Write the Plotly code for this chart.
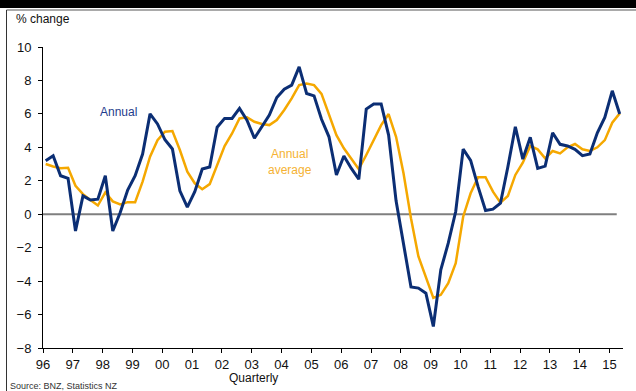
import plotly.graph_objects as go

quarters = [f"{y}Q{q}" for y in range(1996, 2016) for q in range(1, 5)][:78]

annual = [3.2, 3.5, 2.3, 2.15, -1.0, 1.1, 0.85, 0.9,
          2.3, -1.0, 0.1, 1.45, 2.3, 3.6, 6.0, 5.4,
          4.45, 3.9, 1.4, 0.42, 1.35, 2.7, 2.82, 5.2,
          5.73, 5.73, 6.33, 5.63, 4.54, 5.2, 5.93, 6.98,
          7.48, 7.72, 8.81, 7.22, 7.08, 5.68, 4.63, 2.35,
          3.48, 2.74, 2.09, 6.29, 6.59, 6.59, 4.73, 0.8,
          -1.8, -4.35, -4.42, -4.72, -6.71, -3.33, -1.73, 0.16,
          3.89, 3.22, 1.65, 0.22, 0.3, 0.66, 2.84, 5.23,
          3.3, 4.6, 2.74, 2.88, 4.87, 4.18, 4.08, 3.88,
          3.5, 3.6, 4.87, 5.79, 7.38, 5.99]

annual_avg = [3.0, 2.85, 2.75, 2.78, 1.7, 1.2, 0.85, 0.52,
              1.3, 0.77, 0.58, 0.72, 0.72, 1.95, 3.44, 4.43,
              4.93, 4.97, 3.84, 2.55, 1.85, 1.49, 1.8, 2.94,
              4.08, 4.83, 5.73, 5.8, 5.53, 5.4, 5.33, 5.63,
              6.23, 6.93, 7.72, 7.82, 7.72, 7.2, 5.93, 4.73,
              3.94, 3.28, 2.69, 3.54, 4.43, 5.33, 5.99, 4.63,
              2.45, -0.24, -2.53, -3.72, -5.0, -4.82, -4.12, -2.93,
              -0.15, 1.25, 2.21, 2.21, 1.35, 0.69, 1.09, 2.35,
              3.08, 4.08, 3.88, 3.34, 3.78, 3.64, 4.0, 4.2,
              3.88, 3.78, 4.0, 4.43, 5.47, 6.03]

year_ticks = list(range(1996, 2016))
tick_labels = ["96", "97", "98", "99", "00", "01", "02", "03", "04", "05",
               "06", "07", "08", "09", "10", "11", "12", "13", "14", "15"]

W, H = 636, 391
L, R, T, B = 43, 13, 47, 43


def px_x(px):
    return (px - L) / (W - L - R)


def px_y(py):
    return 1 - (py - T) / (H - T - B)


xs = [int(q[:4]) + (int(q[-1]) - 1) / 4 + 0.09 for q in quarters]

NAVY = "#0B2E74"
GOLD = "#F5A800"
FONT = "Liberation Sans, Arial, sans-serif"

fig = go.Figure()
fig.add_trace(go.Scatter(x=xs, y=annual_avg, mode="lines", name="Annual average",
                         line=dict(color=GOLD, width=2.5), hoverinfo="skip"))
fig.add_trace(go.Scatter(x=xs, y=annual, mode="lines", name="Annual",
                         line=dict(color=NAVY, width=3), hoverinfo="skip"))

shapes = [
    dict(type="line", xref="x", yref="y", x0=1996, x1=2015.24, y0=0, y1=0,
         line=dict(color="#7F7F7F", width=2), layer="below"),
    dict(type="rect", xref="paper", yref="paper", x0=px_x(0), x1=px_x(W),
         y0=px_y(8), y1=px_y(0), fillcolor="black", line=dict(width=0)),
    dict(type="line", xref="paper", yref="paper", x0=px_x(6.5), x1=px_x(W),
         y0=px_y(10), y1=px_y(10), line=dict(color="#555555", width=1)),
    dict(type="line", xref="paper", yref="paper", x0=px_x(6.5), x1=px_x(6.5),
         y0=px_y(10), y1=px_y(H), line=dict(color="#333333", width=1)),
]

annotations = [
    dict(text="% change", xref="paper", yref="paper", x=px_x(14), y=px_y(19),
         xanchor="left", yanchor="middle", showarrow=False,
         font=dict(size=12, color="#111111", family=FONT)),
    dict(text="Annual", xref="paper", yref="paper", x=px_x(118), y=px_y(112),
         xanchor="center", yanchor="middle", showarrow=False,
         font=dict(size=12, color="#1F3C8C", family=FONT)),
    dict(text="Annual<br>average", xref="paper", yref="paper", x=px_x(290), y=px_y(162),
         xanchor="center", yanchor="middle", showarrow=False, align="center",
         font=dict(size=12, color="#F5B233", family=FONT)),
    dict(text="Quarterly", xref="paper", yref="paper", x=px_x(253), y=px_y(378),
         xanchor="center", yanchor="middle", showarrow=False,
         font=dict(size=12, color="#111111", family=FONT)),
    dict(text="Source: BNZ, Statistics NZ", xref="paper", yref="paper", x=px_x(8), y=px_y(386),
         xanchor="left", yanchor="middle", showarrow=False,
         font=dict(size=9, color="#333333", family=FONT)),
]

fig.update_layout(
    width=W, height=H,
    margin=dict(l=L, r=R, t=T, b=B, pad=0),
    paper_bgcolor="white", plot_bgcolor="white",
    showlegend=False,
    font=dict(family=FONT, size=13, color="#111111"),
    shapes=shapes,
    annotations=annotations,
    xaxis=dict(range=[1996, 2015.45], tickvals=year_ticks, ticktext=tick_labels,
               ticks="outside", ticklen=4, tickcolor="black", tickwidth=1,
               showline=True, linecolor="black", linewidth=1,
               showgrid=False, zeroline=False,
               tickfont=dict(size=13, color="#111111", family=FONT)),
    yaxis=dict(range=[-8, 10], dtick=2, tick0=0,
               ticks="outside", ticklen=4, tickcolor="black", tickwidth=1,
               showline=True, linecolor="black", linewidth=1,
               showgrid=False, zeroline=False, ticklabelstandoff=4,
               tickfont=dict(size=13, color="#111111", family=FONT)),
)

fig.write_html("out.html")
